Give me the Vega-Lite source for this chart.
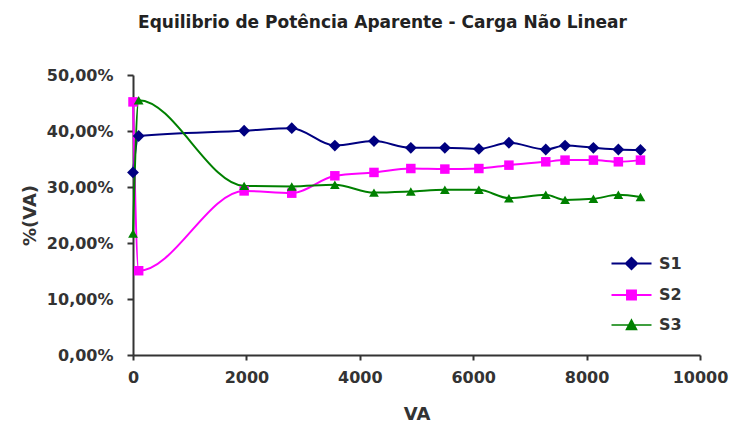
{
  "$schema": "https://vega.github.io/schema/vega-lite/v6.json",
  "width": 567,
  "height": 280,
  "autosize": "none",
  "padding": {"left": 133, "top": 75, "right": 34, "bottom": 78},
  "background": "white",
  "title": {
    "text": "Equilibrio de Potência Aparente - Carga Não Linear",
    "font": "DejaVu Sans",
    "fontSize": 17,
    "fontWeight": "bold",
    "color": "#222222",
    "anchor": "middle",
    "dx": -34,
    "offset": 35
  },
  "config": {
    "view": {"stroke": null},
    "font": "DejaVu Sans",
    "axis": {
      "grid": false,
      "domainColor": "#333333",
      "domainWidth": 2,
      "tickColor": "#333333",
      "tickWidth": 2,
      "labelFont": "DejaVu Sans",
      "labelFontWeight": "bold",
      "labelFontSize": 16,
      "labelColor": "#333333",
      "titleFont": "DejaVu Sans",
      "titleFontWeight": "bold",
      "titleFontSize": 18,
      "titleColor": "#333333"
    }
  },
  "data": {
    "values": [
      {"va": 0, "serie": "S1", "pct": 0.326},
      {"va": 100, "serie": "S1", "pct": 0.391},
      {"va": 1960, "serie": "S1", "pct": 0.4005},
      {"va": 2800, "serie": "S1", "pct": 0.405},
      {"va": 3560, "serie": "S1", "pct": 0.374},
      {"va": 4250, "serie": "S1", "pct": 0.382},
      {"va": 4900, "serie": "S1", "pct": 0.370},
      {"va": 5500, "serie": "S1", "pct": 0.370},
      {"va": 6100, "serie": "S1", "pct": 0.368},
      {"va": 6630, "serie": "S1", "pct": 0.379},
      {"va": 7280, "serie": "S1", "pct": 0.367},
      {"va": 7620, "serie": "S1", "pct": 0.374},
      {"va": 8120, "serie": "S1", "pct": 0.370},
      {"va": 8560, "serie": "S1", "pct": 0.367},
      {"va": 8950, "serie": "S1", "pct": 0.366},
      {"va": 0, "serie": "S2", "pct": 0.452},
      {"va": 100, "serie": "S2", "pct": 0.1505},
      {"va": 1960, "serie": "S2", "pct": 0.293},
      {"va": 2800, "serie": "S2", "pct": 0.289},
      {"va": 3560, "serie": "S2", "pct": 0.320},
      {"va": 4250, "serie": "S2", "pct": 0.326},
      {"va": 4900, "serie": "S2", "pct": 0.333},
      {"va": 5500, "serie": "S2", "pct": 0.332},
      {"va": 6100, "serie": "S2", "pct": 0.333},
      {"va": 6630, "serie": "S2", "pct": 0.339},
      {"va": 7280, "serie": "S2", "pct": 0.345},
      {"va": 7620, "serie": "S2", "pct": 0.348},
      {"va": 8120, "serie": "S2", "pct": 0.348},
      {"va": 8560, "serie": "S2", "pct": 0.345},
      {"va": 8950, "serie": "S2", "pct": 0.348},
      {"va": 0, "serie": "S3", "pct": 0.217},
      {"va": 100, "serie": "S3", "pct": 0.455},
      {"va": 1960, "serie": "S3", "pct": 0.302},
      {"va": 2800, "serie": "S3", "pct": 0.301},
      {"va": 3560, "serie": "S3", "pct": 0.304},
      {"va": 4250, "serie": "S3", "pct": 0.290},
      {"va": 4900, "serie": "S3", "pct": 0.292},
      {"va": 5500, "serie": "S3", "pct": 0.295},
      {"va": 6100, "serie": "S3", "pct": 0.295},
      {"va": 6630, "serie": "S3", "pct": 0.280},
      {"va": 7280, "serie": "S3", "pct": 0.286},
      {"va": 7620, "serie": "S3", "pct": 0.277},
      {"va": 8120, "serie": "S3", "pct": 0.279},
      {"va": 8560, "serie": "S3", "pct": 0.286},
      {"va": 8950, "serie": "S3", "pct": 0.282}
    ]
  },
  "encoding": {
    "x": {
      "field": "va",
      "type": "quantitative",
      "scale": {"domain": [0, 10000], "nice": false, "zero": false},
      "axis": {
        "title": "VA",
        "values": [0, 2000, 4000, 6000, 8000, 10000],
        "format": "d",
        "tickSize": 5,
        "labelPadding": 9,
        "titlePadding": 20,
        "labelFlush": false
      }
    },
    "y": {
      "field": "pct",
      "type": "quantitative",
      "scale": {"domain": [0, 0.5], "nice": false},
      "axis": {
        "title": "%(VA)",
        "values": [0, 0.1, 0.2, 0.3, 0.4, 0.5],
        "labelExpr": "replace(format(datum.value, '.2%'), '.', ',')",
        "tickSize": 6,
        "labelPadding": 14,
        "titlePadding": 7
      }
    },
    "color": {
      "field": "serie",
      "type": "nominal",
      "scale": {"domain": ["S1", "S2", "S3"], "range": ["#000080", "#FF00FF", "#008000"]},
      "legend": {
        "title": null,
        "orient": "none",
        "legendX": 487,
        "legendY": 177,
        "padding": 0,
        "symbolType": "M-2,0H2",
        "symbolSize": 400,
        "symbolStrokeWidth": 1.6,
        "labelOffset": 16,
        "rowPadding": 10,
        "labelFont": "DejaVu Sans",
        "labelFontWeight": "bold",
        "labelFontSize": 16,
        "labelColor": "#333333",
        "encode": {
          "symbols": {
            "update": {
              "shape": {"signal": "datum.value === 'S1' ? 'M-2,0H2M0,-0.55L0.55,0L0,0.55L-0.55,0Z' : datum.value === 'S2' ? 'M-2,0H2M-0.45,-0.45H0.45V0.45H-0.45Z' : 'M-2,0H2M0,-0.5L0.5,0.45H-0.5Z'"},
              "fill": {"signal": "datum.value === 'S1' ? '#000080' : datum.value === 'S2' ? '#FF00FF' : '#008000'"},
              "fillOpacity": {"value": 1}
            }
          }
        }
      }
    }
  },
  "layer": [
    {
      "mark": {"type": "line", "interpolate": "monotone", "strokeWidth": 2},
      "encoding": {
        "strokeWidth": {
          "field": "serie",
          "type": "nominal",
          "scale": {"domain": ["S1", "S2", "S3"], "range": [2.2, 1.6, 1.6]},
          "legend": null
        }
      }
    },
    {
      "transform": [{"filter": "datum.serie === 'S1'"}],
      "mark": {"type": "point", "filled": true, "opacity": 1, "shape": "diamond", "size": 140}
    },
    {
      "transform": [{"filter": "datum.serie === 'S2'"}],
      "mark": {"type": "point", "filled": true, "opacity": 1, "shape": "square", "size": 90}
    },
    {
      "transform": [{"filter": "datum.serie === 'S3'"}],
      "mark": {"type": "point", "filled": true, "opacity": 1, "shape": "triangle-up", "size": 95}
    }
  ]
}
